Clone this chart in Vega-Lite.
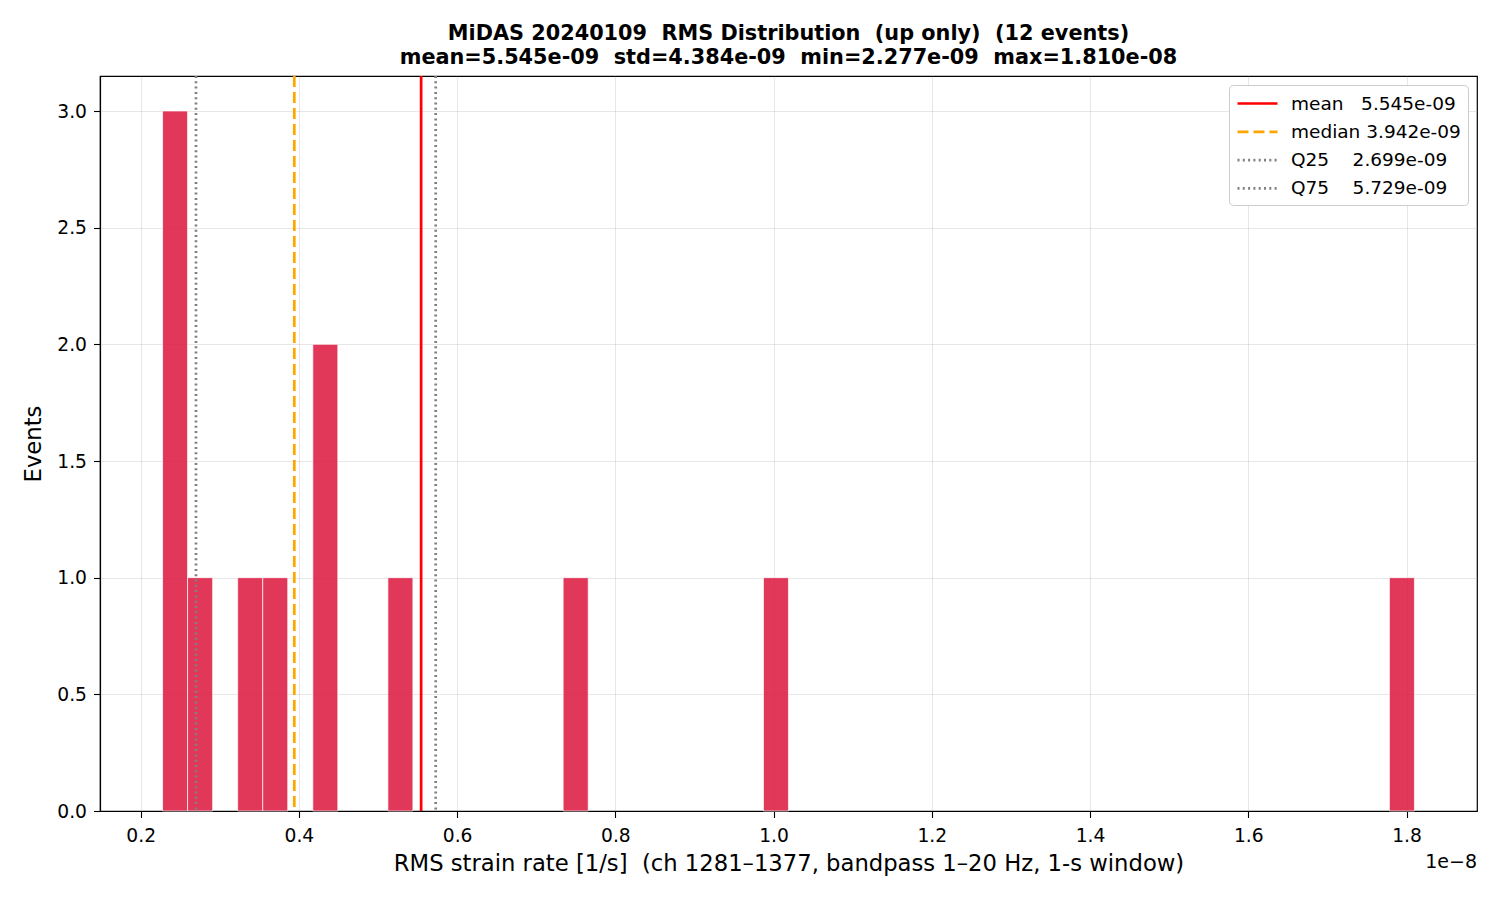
{
  "$schema": "https://vega.github.io/schema/vega-lite/v6.json",
  "width": 1377,
  "height": 735,
  "autosize": {"type": "none"},
  "padding": {"left": 100, "top": 76, "right": 23, "bottom": 89},
  "background": "white",
  "title": {
    "text": ["MiDAS 20240109 \u00a0RMS Distribution \u00a0(up only) \u00a0(12 events)", "mean=5.545e-09 \u00a0std=4.384e-09 \u00a0min=2.277e-09 \u00a0max=1.810e-08"],
    "anchor": "middle",
    "font": "DejaVu Sans",
    "fontSize": 20.8,
    "fontWeight": "bold",
    "color": "black",
    "lineHeight": 24,
    "baseline": "alphabetic",
    "offset": -10
  },
  "config": {
    "font": "DejaVu Sans",
    "view": {"stroke": "black", "strokeWidth": 1.2},
    "axis": {
      "domainColor": "black",
      "domainWidth": 1.2,
      "tickColor": "black",
      "tickSize": 6.5,
      "tickWidth": 1.1,
      "labelColor": "black",
      "labelFontSize": 18.7,
      "labelPadding": 7,
      "labelFont": "DejaVu Sans",
      "titleFont": "DejaVu Sans",
      "titleFontSize": 22.7,
      "titleFontWeight": "normal",
      "titleColor": "black",
      "gridColor": "#b0b0b0",
      "gridOpacity": 0.3,
      "gridWidth": 1
    },
    "legend": {
      "labelFont": "DejaVu Sans",
      "labelFontSize": 18.5,
      "labelColor": "black",
      "labelLimit": 400
    }
  },
  "datasets": {
    "bins": [
      {"bin_start": 0.2277, "bin_end": 0.2593, "count": 3},
      {"bin_start": 0.2593, "bin_end": 0.2910, "count": 1},
      {"bin_start": 0.3226, "bin_end": 0.3543, "count": 1},
      {"bin_start": 0.3543, "bin_end": 0.3859, "count": 1},
      {"bin_start": 0.4176, "bin_end": 0.4492, "count": 2},
      {"bin_start": 0.5125, "bin_end": 0.5441, "count": 1},
      {"bin_start": 0.7340, "bin_end": 0.7657, "count": 1},
      {"bin_start": 0.9872, "bin_end": 1.0188, "count": 1},
      {"bin_start": 1.7784, "bin_end": 1.8100, "count": 1}
    ],
    "stats": [
      {"value": 0.5545, "label": "mean\u00a0\u00a0\u00a05.545e-09"},
      {"value": 0.3942, "label": "median\u00a03.942e-09"},
      {"value": 0.2699, "label": "Q25\u00a0\u00a0\u00a0\u00a02.699e-09"},
      {"value": 0.5729, "label": "Q75\u00a0\u00a0\u00a0\u00a05.729e-09"}
    ],
    "offset": [{"text": "1e\u22128"}]
  },
  "layer": [
    {
      "data": {"name": "bins"},
      "mark": {"type": "bar", "fill": "#DC143C", "fillOpacity": 0.85, "stroke": "white", "strokeWidth": 0.7},
      "encoding": {
        "x": {
          "field": "bin_start",
          "type": "quantitative",
          "scale": {"domain": [0.1486, 1.8891], "nice": false, "zero": false},
          "axis": {
            "values": [0.2, 0.4, 0.6, 0.8, 1.0, 1.2, 1.4, 1.6, 1.8],
            "format": ".1f",
            "title": "RMS strain rate [1/s] \u00a0(ch 1281\u20131377, bandpass 1\u201320 Hz, 1-s window)",
            "labelPadding": 9,
            "titlePadding": 7,
            "grid": true
          }
        },
        "x2": {"field": "bin_end"},
        "y": {
          "field": "count",
          "type": "quantitative",
          "scale": {"domain": [0, 3.15], "nice": false},
          "axis": {
            "values": [0, 0.5, 1.0, 1.5, 2.0, 2.5, 3.0],
            "format": ".1f",
            "title": "Events",
            "titlePadding": 11,
            "grid": true
          }
        },
        "y2": {"datum": 0}
      }
    },
    {
      "data": {"name": "stats"},
      "mark": {"type": "rule"},
      "encoding": {
        "x": {"field": "value", "type": "quantitative"},
        "color": {
          "field": "label",
          "type": "nominal",
          "sort": null,
          "scale": {
            "domain": ["mean\u00a0\u00a0\u00a05.545e-09", "median\u00a03.942e-09", "Q25\u00a0\u00a0\u00a0\u00a02.699e-09", "Q75\u00a0\u00a0\u00a0\u00a05.729e-09"],
            "range": ["#ff0000", "#ffa500", "#808080", "#808080"]
          },
          "legend": {
            "title": null,
            "orient": "top-right",
            "offset": 9,
            "symbolType": "M-2,0L2,0",
            "symbolSize": 400,
            "symbolOffset": 10,
            "rowPadding": 7.3,
            "labelOffset": 22,
            "labelLimit": 400,
            "padding": 7,
            "fillColor": "white",
            "strokeColor": "#cccccc",
            "cornerRadius": 4
          }
        },
        "strokeDash": {
          "field": "label",
          "type": "nominal",
          "sort": null,
          "scale": {
            "domain": ["mean\u00a0\u00a0\u00a05.545e-09", "median\u00a03.942e-09", "Q25\u00a0\u00a0\u00a0\u00a02.699e-09", "Q75\u00a0\u00a0\u00a0\u00a05.729e-09"],
            "range": [[1, 0], [11, 5], [2, 3.3], [2, 3.3]]
          }
        },
        "strokeWidth": {
          "field": "label",
          "type": "nominal",
          "sort": null,
          "scale": {
            "domain": ["mean\u00a0\u00a0\u00a05.545e-09", "median\u00a03.942e-09", "Q25\u00a0\u00a0\u00a0\u00a02.699e-09", "Q75\u00a0\u00a0\u00a0\u00a05.729e-09"],
            "range": [2.7, 2.7, 1.6, 1.6]
          }
        }
      }
    },
    {
      "data": {"name": "offset"},
      "mark": {"type": "text", "align": "right", "baseline": "middle", "fontSize": 19, "color": "black", "dy": 51},
      "encoding": {
        "text": {"field": "text"},
        "x": {"datum": 1.8891},
        "y": {"datum": 0}
      }
    }
  ]
}
